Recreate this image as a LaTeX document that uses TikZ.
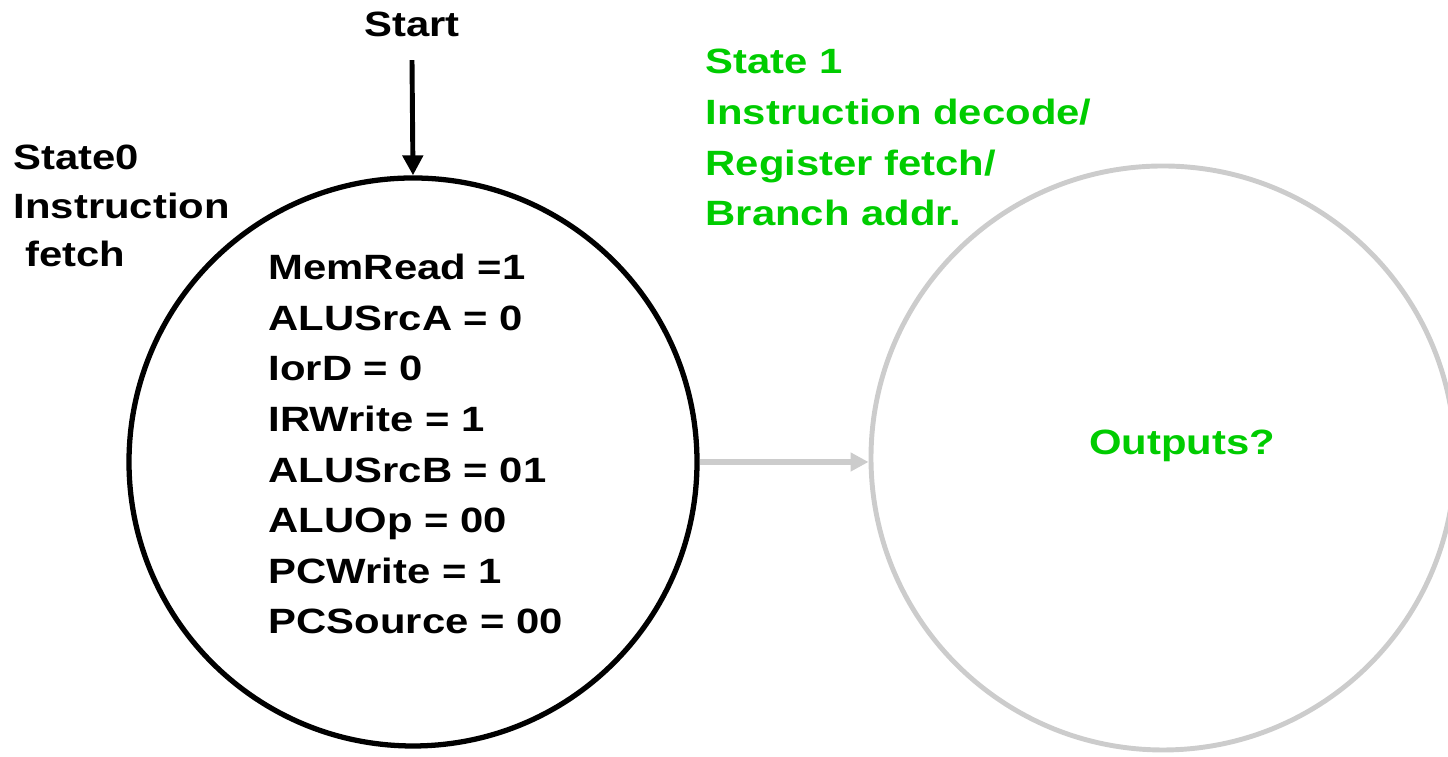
\documentclass[tikz,border=0pt]{standalone}
\usepackage{fontspec}
\setmainfont[FakeStretch=1.19]{Liberation Sans}
\usetikzlibrary{arrows.meta,positioning}

\definecolor{stategreen}{RGB}{0,204,0}
\definecolor{stategray}{RGB}{204,204,204}

\tikzset{
  txt/.style={inner sep=0pt,font=\fontsize{10}{14.4}\selectfont\bfseries,align=left},
  state/.style={circle,draw,line width=1.5pt,inner sep=0pt},
}

\begin{document}
\begin{tikzpicture}
\useasboundingbox (0,0) rectangle (14.48,7.57);

% the two states
\node[state,minimum size=5.68cm] (s0) at (4.13,2.95) {};
\node[state,draw=stategray,line width=1.4pt,minimum size=5.84cm] (s1) at (11.63,2.99) {};

% start arrow
\node[txt,anchor=base] (start) at (4.12,7.20) {Start};
\draw[line width=1.4pt,-{Triangle[length=2mm,width=2mm]}] ([yshift=-0.22cm]start.south) -- (s0.north);

% labels of state 0 (placed by the baseline of their last line)
\node[txt,anchor=base west,font=\fontsize{10}{13.8}\selectfont\bfseries] (s0name) at (0.13,4.90)
  {State0\\Instruction\\\ fetch};
\node[txt,anchor=base west] (s0out) at (2.68,1.23)
  {MemRead =1\\ALUSrcA = 0\\IorD = 0\\IRWrite = 1\\ALUSrcB = 01\\ALUOp = 00\\PCWrite = 1\\PCSource = 00};

% labels of state 1
\node[txt,anchor=base west,text=stategreen,font=\fontsize{10}{14.5}\selectfont\bfseries] (s1name) at (7.05,5.31)
  {State 1\\Instruction decode/\\Register fetch/\\Branch addr.};
\node[txt,anchor=base,text=stategreen] (s1out) at (11.82,3.02) {Outputs?};

% transition
\draw[stategray,line width=1.7pt,-{Triangle[length=1.8mm,width=1.8mm]}] (s0.east) -- (s0.east -| s1.west);
\end{tikzpicture}
\end{document}
